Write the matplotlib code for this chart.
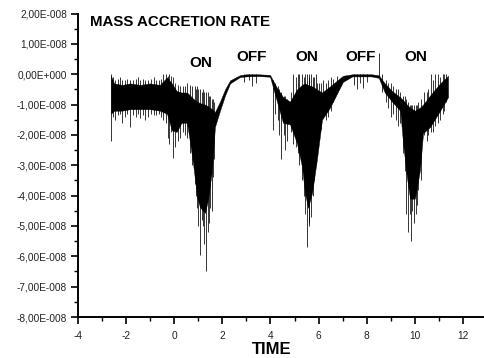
import matplotlib
matplotlib.use('Agg')
import matplotlib.pyplot as plt
from matplotlib.ticker import MultipleLocator, FuncFormatter

plt.rcParams['font.family'] = ['Liberation Sans', 'DejaVu Sans']
plt.rcParams['axes.unicode_minus'] = False

# dense band of the signal (units of 1e-8)
time = [-2.63, -2.5, -2.17, -1.84, -1.42, -1.0, -0.6, -0.3, -0.1, 0.1, 0.3, 0.53, 0.66, 0.78,
        0.95, 1.07, 1.28, 1.40, 1.57, 1.69, 1.90, 2.11, 2.32, 2.73, 3.0, 3.5, 3.98, 4.27, 4.52,
        4.81, 5.10, 5.31, 5.43, 5.56, 5.73, 5.93, 6.14, 6.47, 7.01, 7.4, 7.8, 8.2, 8.5, 8.75,
        9.05, 9.39, 9.51, 9.67, 9.80, 10.0, 10.21, 10.34, 10.63, 11.05, 11.38]
upper = [-0.05, -0.3, -0.35, -0.3, -0.35, -0.3, -0.35, -0.1, -0.3, -0.55, -0.6, -0.6, -0.7, -0.8,
         -0.9, -0.95, -1.0, -1.05, -1.15, -1.25, -0.9, -0.5, -0.2, -0.03, 0.0, 0.0, -0.02, -0.45, -0.75,
         -0.9, -0.5, -0.35, -0.3, -0.35, -0.4, -0.5, -0.6, -0.4, -0.05, 0.0, 0.0, 0.0, -0.03, -0.3,
         -0.55, -0.76, -0.85, -1.0, -1.1, -1.2, -1.1, -1.0, -0.7, -0.3, -0.05]
lower = [-1.3, -1.2, -1.2, -1.15, -1.15, -1.15, -1.2, -1.3, -1.85, -1.9, -1.6, -1.6, -2.27, -2.93,
         -4.05, -4.38, -4.57, -4.14, -3.16, -1.74, -1.2, -0.7, -0.3, -0.09, -0.07, -0.06, -0.08, -0.9, -1.6,
         -1.65, -2.27, -3.05, -3.9, -4.4, -3.9, -2.8, -1.5, -1.1, -0.25, -0.07, -0.07, -0.07, -0.12, -0.6,
         -0.9, -1.2, -2.27, -3.4, -4.1, -4.1, -3.16, -1.94, -1.74, -1.2, -0.75]

# individual spikes (units of 1e-8)
spike_t = [-2.63, -2.55, -2.45, -2.35, -2.25, -2.17, -2.05, -1.95, -1.84, -1.7, -1.6, -1.5, -1.42,
           -1.3, -1.2, -1.1, -0.95, -0.85, -0.75, -0.65, -0.55, -0.45, -0.35, -0.25, -0.2, -0.15,
           -0.05, 0.05, 0.15, 0.24, 0.35, 0.45, 0.55, 0.66, 0.72, 0.85, 0.9, 0.95, 1.0, 1.07, 1.15,
           1.2, 1.25, 1.32, 1.40, 1.45, 1.5, 1.55, 1.6, 1.65,
           2.9, 3.1, 3.23, 3.4,
           4.1, 4.2, 4.3, 4.35, 4.45, 4.55, 4.62, 4.7, 4.85, 4.95, 5.05, 5.15, 5.2, 5.3, 5.38, 5.45,
           5.52, 5.58, 5.62, 5.7, 5.75, 5.8, 5.88, 5.95, 6.0, 6.1, 6.2, 6.3, 6.4, 6.5, 6.6, 6.75,
           7.45, 7.6, 7.7, 7.85, 8.0, 8.53,
           8.65, 8.8, 8.9, 9.0, 9.1, 9.2, 9.3, 9.4, 9.5, 9.58, 9.65, 9.72, 9.78, 9.85, 9.9, 9.95,
           10.05, 10.1, 10.15, 10.25, 10.4, 10.5, 10.55, 10.65, 10.75, 10.85, 10.95, 11.05, 11.15,
           11.2, 11.3]
spike_lo = [-2.2, -1.4, -1.5, -1.35, -1.3, -1.6, -1.4, -1.3, -1.75, -1.35, -1.4, -1.3, -1.45,
            -1.35, -1.5, -1.4, -1.3, -1.35, -1.35, -1.3, -1.4, -1.5, -1.6, -2.1, -2.3, -1.9,
            -2.75, -2.4, -2.2, -2.1, -1.9, -2.0, -2.1, -2.6, -3.0, -3.6, -4.0, -4.4, -5.0, -5.95, -4.8,
            -5.0, -5.6, -6.5, -5.2, -4.9, -4.4, -4.5, -3.4, -2.8,
            -0.25, -0.2, -0.4, -0.3,
            -1.85, -1.3, -1.5, -2.0, -2.8, -2.0, -2.5, -2.2, -1.9, -2.3, -2.4, -2.6, -3.0, -3.5, -4.0, -4.6,
            -5.7, -4.9, -5.0, -4.7, -4.0, -3.5, -3.0, -2.2, -2.0, -1.8, -1.4, -1.5, -1.4, -1.2, -0.9, -0.6,
            -0.35, -0.5, -0.3, -0.45, -0.25, -0.1,
            -0.6, -0.9, -1.1, -1.4, -1.3, -1.5, -1.7, -1.6, -2.6, -3.2, -4.6, -5.2, -4.6, -5.5, -4.5, -4.9,
            -4.6, -4.3, -3.8, -3.5, -2.0, -2.2, -2.0, -1.9, -1.9, -1.7, -1.6, -1.5, -1.3,
            -1.2, -0.9]
spike_hi = [0.0, -0.1, -0.2, -0.15, -0.1, -0.2, -0.2, -0.15, -0.2, -0.2, -0.15, -0.1, -0.2,
            -0.15, -0.2, -0.2, -0.15, -0.1, -0.2, -0.2, -0.15, 0.0, 0.0, -0.05, 0.0, -0.05,
            -0.1, -0.3, -0.35, -0.4, -0.4, -0.4, -0.3, -0.35, -0.4, -0.4, -0.5, -0.4, -0.5, -0.5, -0.6,
            -0.5, -0.6, -0.6, -0.6, -0.7, -0.7, -0.8, -0.8, -0.9,
            0.0, 0.0, 0.0, 0.0,
            -0.2, -0.3, -0.4, -0.5, -0.6, -0.7, -0.7, -0.8, -0.6, 0.0, -0.1, 0.0, 0.0, 0.0, -0.1, 0.0,
            0.0, 0.0, -0.1, 0.0, -0.1, -0.1, 0.0, -0.3, -0.3, -0.3, -0.2, -0.3, -0.2, -0.1, -0.15, -0.05,
            0.0, 0.0, 0.0, 0.0, 0.0, 0.7,
            0.0, -0.2, -0.3, -0.3, -0.4, -0.5, -0.5, -0.6, -0.7, -0.7, -0.8, -0.9, -1.0, -1.0, -1.0, -1.0,
            -1.0, -1.0, -0.9, -0.8, -0.6, -0.6, -0.5, 0.0, -0.2, 0.0, 0.0, -0.1, 0.0,
            0.0, 0.0]

labels = ['ON', 'OFF', 'ON', 'OFF', 'ON']
label_t = [1.11, 3.23, 5.52, 7.76, 10.05]
label_y = [0.36, 0.56, 0.56, 0.56, 0.56]

scale = 1e-8
fig = plt.figure(figsize=(4.85, 3.58), dpi=100)
ax = fig.add_axes([0.1608, 0.1145, 0.835, 0.8475])

ax.fill_between(time, [v * scale for v in lower], [v * scale for v in upper],
                color='black', linewidth=0.3, edgecolor='black')
ax.vlines(spike_t, [v * scale for v in spike_lo], [v * scale for v in spike_hi],
          color='black', linewidth=0.55)

for s, t, y in zip(labels, label_t, label_y):
    ax.text(t, y * scale, s, ha='center', va='center', fontsize=11, fontweight='bold')

ax.set_xlim(-4, 12.83)
ax.set_ylim(-8e-8, 2e-8)
ax.xaxis.set_major_locator(MultipleLocator(2))
ax.xaxis.set_minor_locator(MultipleLocator(1))
ax.yaxis.set_major_locator(MultipleLocator(1e-8))
ax.yaxis.set_minor_locator(MultipleLocator(0.5e-8))


def fmt(v, pos):
    k = round(v / 1e-8, 6)
    if k == 0:
        return '0,00E+000'
    return ('%.2f' % k).replace('.', ',') + 'E-008'


ax.yaxis.set_major_formatter(FuncFormatter(fmt))
for side in ['top', 'right']:
    ax.spines[side].set_visible(False)
for side in ['left', 'bottom']:
    ax.spines[side].set_linewidth(1.4)
ax.tick_params(which='major', length=5, width=1.2, labelsize=7.3, labelcolor='#222222')
ax.tick_params(which='minor', length=3, width=1.0)
ax.tick_params(axis='y', pad=3)
ax.tick_params(axis='x', pad=5)

fig.text(90 / 485, 1 - 22 / 358, 'MASS ACCRETION RATE', ha='left', va='center',
         fontsize=10.8, fontweight='bold')
fig.text(272 / 485, 1 - 350 / 358, 'TIME', ha='center', va='center',
         fontsize=12, fontweight='bold')

fig.savefig('out.png', dpi=100)
